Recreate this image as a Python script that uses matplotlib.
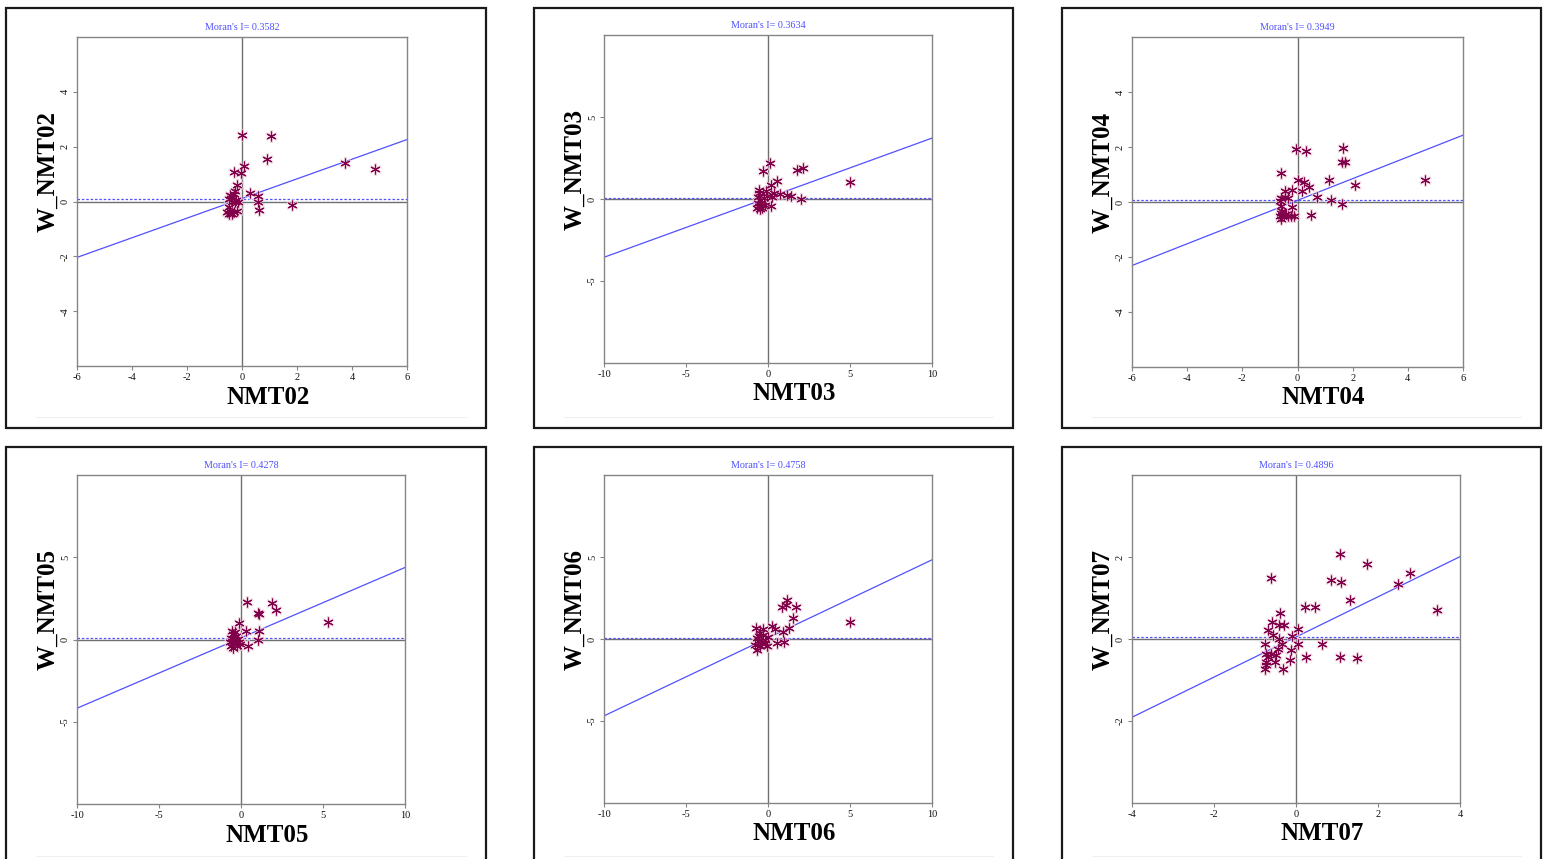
import matplotlib
matplotlib.use("Agg")
import matplotlib.pyplot as plt
from matplotlib.patches import Rectangle
from matplotlib.lines import Line2D

plt.rcParams['font.family'] = ['Liberation Serif', 'DejaVu Serif']
plt.rcParams['axes.unicode_minus'] = False

W, H = 1549, 859

# ---------------- data ----------------
names = ["NMT02", "NMT03", "NMT04", "NMT05", "NMT06", "NMT07"]
morans_i = [0.3582, 0.3634, 0.3949, 0.4278, 0.4758, 0.4896]
intercepts = [0.11, 0.08, 0.06, 0.10, 0.07, 0.05]
lag_means = [0.10, 0.05, 0.06, 0.07, 0.04, 0.04]
limits = [6, 10, 6, 10, 10, 4]
x_ticks = [[-6, -4, -2, 0, 2, 4, 6], [-10, -5, 0, 5, 10], [-6, -4, -2, 0, 2, 4, 6],
           [-10, -5, 0, 5, 10], [-10, -5, 0, 5, 10], [-4, -2, 0, 2, 4]]
y_ticks = [[-4, -2, 0, 2, 4], [-5, 0, 5], [-4, -2, 0, 2, 4],
           [-5, 0, 5], [-5, 0, 5], [-2, 0, 2]]

nmt02_x = [0.00, 1.05, 0.92, 3.76, 4.85, 0.08, -0.29, -0.04, -0.18, -0.25, 0.28, 0.57, 0.59, 0.62, 1.82,
           -0.42, -0.46, -0.37, -0.25, -0.48, -0.42, -0.30, -0.18, -0.48, -0.37, -0.55, -0.28, -0.39, -0.22, -0.13]
nmt02_y = [2.42, 2.38, 1.56, 1.42, 1.19, 1.29, 1.09, 1.03, 0.62, 0.38, 0.30, 0.21, -0.02, -0.31, -0.14,
           0.22, 0.10, -0.02, -0.02, -0.20, -0.33, -0.39, -0.33, -0.45, -0.47, -0.39, 0.28, 0.14, 0.04, 0.00]

nmt03_x = [0.14, -0.28, 1.79, 2.11, 0.57, 0.18, 5.00, 2.01, 1.40, 1.14, 0.73, 0.38, 0.22, 0.18,
           -0.56, -0.52, -0.60, -0.46, -0.60, -0.56, -0.46, -0.67, -0.36, -0.26, -0.12, -0.06, -0.36, -0.16]
nmt03_y = [2.18, 1.73, 1.77, 1.87, 1.10, 0.85, 1.02, 0.02, 0.20, 0.24, 0.29, 0.39, 0.14, -0.43,
           0.55, 0.35, 0.15, -0.05, -0.25, -0.45, -0.60, -0.55, -0.35, 0.06, 0.47, 0.16, -0.55, -0.35]

nmt04_x = [-0.07, 0.31, 1.66, 1.60, 1.72, -0.60, 0.00, 1.14, 4.63, 0.25, 0.40, 2.08, 0.17, -0.21, -0.45,
           0.69, 1.21, 1.60, -0.21, 0.48,
           -0.60, -0.45, -0.33, -0.65, -0.60, -0.60, -0.65, -0.55, -0.48, -0.36, -0.24, -0.12, -0.60, -0.55, -0.42]
nmt04_y = [1.92, 1.84, 1.96, 1.45, 1.45, 1.07, 0.80, 0.80, 0.80, 0.71, 0.55, 0.61, 0.39, 0.43, 0.40,
           0.18, 0.06, -0.06, -0.17, -0.48,
           0.15, 0.18, 0.15, 0.04, -0.15, -0.39, -0.51, -0.51, -0.48, -0.51, -0.51, -0.51, -0.63, -0.33, -0.45]

nmt05_x = [0.35, 1.87, 2.11, 1.06, 1.10, 5.32, -0.12, 0.29, 1.12, 1.06, 0.41,
           -0.57, -0.37, -0.47, -0.61, -0.53, -0.41, -0.61, -0.47, -0.26, -0.12, -0.20, -0.06, -0.67, -0.33]
nmt05_y = [2.27, 2.23, 1.82, 1.62, 1.58, 1.08, 1.02, 0.50, 0.50, -0.04, -0.40,
           0.50, 0.43, 0.32, 0.12, -0.08, -0.18, -0.38, -0.49, -0.38, -0.18, 0.02, -0.28, -0.18, 0.22]

nmt06_x = [1.14, 1.08, 0.83, 1.71, 1.55, 5.00, 0.22, 0.43, 1.30, 0.93, 1.00, 0.57, 0.02, -0.75, -0.28,
           -0.70, -0.60, -0.77, -0.70, -0.48, -0.38, -0.28, -0.48, -0.18, -0.08, -0.18, -0.55]
nmt06_y = [2.38, 2.07, 1.97, 1.93, 1.26, 1.05, 0.79, 0.59, 0.69, 0.45, -0.16, -0.26, 0.14, 0.65, 0.59,
           0.06, -0.14, -0.35, -0.65, -0.45, -0.24, 0.26, 0.37, -0.04, -0.45, -0.24, 0.16]

nmt07_x = [1.08, 1.73, -0.60, 0.86, 1.10, 2.77, 2.49, 1.31, 3.45, 0.23, 0.47, -0.40, -0.58, -0.42, -0.29,
           0.05, -0.68, -0.56, -0.10, -0.42, -0.76, 0.05, 0.64, -0.33, -0.44, -0.11, -0.72, -0.60, -0.50,
           0.25, 1.07, 1.49, -0.15, -0.52, -0.74, -0.74, -0.76, -0.32, -0.68]
nmt07_y = [2.07, 1.84, 1.50, 1.44, 1.39, 1.62, 1.33, 0.94, 0.71, 0.77, 0.77, 0.64, 0.42, 0.34, 0.34,
           0.25, 0.21, 0.10, 0.07, 0.00, -0.13, -0.13, -0.11, -0.11, -0.25, -0.27, -0.36, -0.37, -0.39,
           -0.45, -0.43, -0.47, -0.51, -0.55, -0.56, -0.64, -0.74, -0.74, -0.45]

xs = [nmt02_x, nmt03_x, nmt04_x, nmt05_x, nmt06_x, nmt07_x]
ys = [nmt02_y, nmt03_y, nmt04_y, nmt05_y, nmt06_y, nmt07_y]

# ---------------- layout (pixels) ----------------
frame_x = [(6, 486), (534, 1013), (1062, 1541)]
frame_y = [(8, 428), (447, 875)]
axes_rects = [  # left, top, right, bottom
    (77, 37, 407, 366), (604, 35, 932, 363), (1132, 37, 1463, 367),
    (77, 475, 405, 804), (604, 475, 932, 803), (1132, 475, 1460, 803),
]

fig = plt.figure(figsize=(W / 100, H / 100), dpi=100)
fig.patch.set_facecolor("white")


def fx(x):
    return x / W


def fy(y):
    return 1 - y / H


grey = "#858585"
blue = "#5050ff"
pt_col = "#80004a"

for i in range(6):
    r, c = divmod(i, 3)
    x0, x1 = frame_x[c]
    y0, y1 = frame_y[r]
    fig.patches.append(Rectangle((fx(x0), fy(y1)), fx(x1 - x0), (y1 - y0) / H,
                                 transform=fig.transFigure, fill=False,
                                 edgecolor="#1a1a1a", lw=1.6, zorder=0))
    # faint separator line near bottom of panel
    fig.add_artist(Line2D([fx(x0 + 30), fx(x1 - 20)], [fy(y0 + 409), fy(y0 + 409)],
                          color="#f0f0f0", lw=0.8))

    l, t, rr, b = axes_rects[i]
    ax = fig.add_axes([fx(l), fy(b), fx(rr - l), (b - t) / H])
    lim = limits[i]
    ax.set_xlim(-lim, lim)
    ax.set_ylim(-lim, lim)
    for s in ax.spines.values():
        s.set_color(grey)
        s.set_linewidth(1.0)
    ax.axvline(0, color="#707070", lw=1.0, zorder=1)
    ax.axhline(0, color="#707070", lw=1.0, zorder=1)
    ax.axhline(lag_means[i], color=blue, lw=0.9, ls=(0, (2, 1.5)), zorder=2)
    ax.plot([-lim, lim], [intercepts[i] - morans_i[i] * lim, intercepts[i] + morans_i[i] * lim],
            color=blue, lw=0.9, zorder=2)
    # asterisk markers with soft halo
    ax.plot(xs[i], ys[i], ls="none", marker=(6, 2, 0), ms=9, mew=1.8,
            color="#ecc8d6", alpha=0.7, zorder=3)
    ax.plot(xs[i], ys[i], ls="none", marker=(6, 2, 0), ms=7, mew=0.8,
            color=pt_col, zorder=4)

    ax.set_xticks(x_ticks[i])
    ax.set_yticks(y_ticks[i])
    ax.set_xticklabels([str(v) for v in x_ticks[i]], fontsize=7.5)
    ax.set_yticklabels([str(v) for v in y_ticks[i]], fontsize=7.5, rotation=90, va="center")
    ax.tick_params(length=3, width=0.8, color=grey, pad=2, labelcolor="#111111")

    cx = (l + rr) / 2
    cy = (t + b) / 2
    fig.text(fx(cx), fy(t - 9), "Moran's I= %.4f" % morans_i[i], color=blue,
             fontsize=7.3, ha="center", va="center")
    fig.text(fx(cx + 26), fy(b + 31), names[i], fontsize=18, fontweight="bold",
             ha="center", va="center")
    fig.text(fx(l - 29), fy(cy - 30), "W_" + names[i], fontsize=18, fontweight="bold",
             rotation=90, ha="center", va="center")

fig.savefig("out.png", dpi=100, facecolor="white")
